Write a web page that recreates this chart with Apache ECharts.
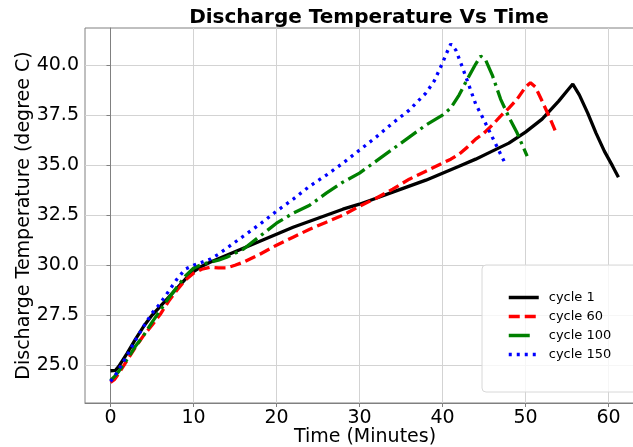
<!DOCTYPE html>
<html>
<head>
<meta charset="utf-8">
<script src="https://cdn.jsdelivr.net/npm/echarts@6.0.0/dist/echarts.min.js"></script>
<style>
  html, body { margin: 0; padding: 0; background: #fff; }
  #chart { width: 633px; height: 447px; }
</style>
</head>
<body>
<div id="chart"></div>
<script>
// tick labels
const xTicks = [0, 10, 20, 30, 40, 50, 60]
const yTicks = [25, 27.5, 30, 32.5, 35, 37.5, 40]

// cycle 1
const time1 = [0, 0.6, 1, 2, 3, 4, 5, 6, 7, 8, 9, 10, 11, 12, 14, 16, 18, 20, 22, 24, 26, 28, 30, 32, 34, 36, 38, 40, 42, 44, 46, 48, 50, 52, 53, 54, 55, 55.7, 56.5, 57.5, 58.5, 59.5, 60.5, 61.2]
const temp1 = [24.73, 24.75, 24.95, 25.6, 26.3, 26.95, 27.5, 27.95, 28.4, 28.85, 29.3, 29.68, 29.95, 30.15, 30.5, 30.85, 31.2, 31.55, 31.9, 32.2, 32.5, 32.8, 33.05, 33.35, 33.65, 33.95, 34.25, 34.6, 34.95, 35.3, 35.7, 36.1, 36.65, 37.3, 37.75, 38.2, 38.7, 39.05, 38.5, 37.6, 36.6, 35.7, 34.95, 34.4]

// cycle 60
const time60 = [0, 0.5, 1, 2, 3, 4, 5, 6, 7, 8, 9, 10, 11, 12, 13, 14, 15, 16, 17, 18, 20, 22, 24, 26, 28, 30, 32, 34, 36, 38, 40, 41, 42, 43, 44, 45, 46, 47, 48, 49, 50, 50.6, 51.2, 52, 53, 53.6]
const temp60 = [24.15, 24.3, 24.6, 25.25, 25.9, 26.5, 27.0, 27.55, 28.2, 28.75, 29.25, 29.6, 29.8, 29.9, 29.87, 29.87, 30.0, 30.15, 30.35, 30.55, 31.0, 31.4, 31.8, 32.15, 32.5, 32.95, 33.35, 33.8, 34.3, 34.7, 35.1, 35.3, 35.55, 35.9, 36.3, 36.6, 37.0, 37.45, 37.85, 38.3, 38.9, 39.12, 38.9, 38.2, 37.3, 36.7]

// cycle 100
const time100 = [0, 0.5, 1, 2, 3, 4, 5, 6, 7, 8, 9, 10, 11, 12, 13, 14, 16, 18, 20, 22, 24, 26, 28, 30, 32, 34, 36, 38, 40, 41, 42, 43, 44, 44.6, 45.2, 46, 47, 48, 49, 50.2]
const temp100 = [24.25, 24.45, 24.7, 25.3, 25.95, 26.5, 27.15, 27.75, 28.35, 28.9, 29.45, 29.85, 30.05, 30.15, 30.25, 30.4, 30.8, 31.45, 32.1, 32.6, 33.0, 33.6, 34.15, 34.6, 35.2, 35.8, 36.4, 37.0, 37.5, 37.85, 38.5, 39.3, 40.05, 40.45, 40.25, 39.5, 38.3, 37.4, 36.6, 35.45]

// cycle 150
const time150 = [0, 0.5, 1, 2, 3, 4, 5, 6, 7, 8, 9, 10, 11, 12, 13, 14, 16, 18, 20, 22, 24, 26, 28, 30, 32, 34, 36, 38, 39, 40, 40.5, 41, 41.6, 42.3, 43, 44, 45, 46, 47, 47.6]
const temp150 = [24.2, 24.45, 24.8, 25.5, 26.25, 26.95, 27.6, 28.1, 28.7, 29.3, 29.8, 30.0, 30.15, 30.3, 30.55, 30.85, 31.45, 32.05, 32.7, 33.3, 33.95, 34.5, 35.1, 35.75, 36.4, 37.1, 37.75, 38.6, 39.2, 40.1, 40.6, 41.05, 40.75, 40.0, 39.2, 38.05, 37.25, 36.4, 35.55, 35.05]

const pairs = (xs, ys) => xs.map((x, i) => [x, ys[i]])

const font = 'DejaVu Sans'
const chart = echarts.init(document.getElementById('chart'))

function line (name, xs, ys, color, dash) {
  return {
    name: name,
    type: 'line',
    data: pairs(xs, ys),
    showSymbol: false,
    symbol: 'none',
    smooth: false,
    lineStyle: { color: color, width: 3.3, type: dash, cap: 'butt' },
    itemStyle: { color: color }
  }
}

chart.setOption({
  animation: false,
  textStyle: { fontFamily: font },
  title: {
    text: 'Discharge Temperature Vs Time',
    left: 364,
    textAlign: 'center',
    top: 3,
    textStyle: { fontFamily: font, fontSize: 20, fontWeight: 'bold', color: '#000' }
  },
  grid: {
    left: 85,
    right: -12,
    top: 28,
    bottom: 44,
    outerBoundsMode: 'none',
    containLabel: false,
    show: true,
    borderColor: '#808080',
    borderWidth: 1
  },
  legend: {
    orient: 'vertical',
    left: 482,
    top: 265,
    padding: [26, 130, 31, 25],
    itemWidth: 30,
    itemHeight: 14,
    itemGap: 6,
    backgroundColor: 'rgba(255,255,255,0.8)',
    borderColor: '#d8d8d8',
    borderWidth: 1,
    borderRadius: 4,
    lineStyle: { width: 3.5 },
    itemStyle: { color: 'rgba(0,0,0,0)', borderWidth: 0, opacity: 0 },
    textStyle: { fontFamily: font, fontSize: 13, color: '#000', padding: [0, 0, 0, 5] },
    data: [
      { name: 'cycle 1' },
      { name: 'cycle 60' },
      { name: 'cycle 100', lineStyle: { type: [21, 9] } },
      { name: 'cycle 150' }
    ]
  },
  xAxis: {
    type: 'value',
    min: -3.07,
    max: 64.4,
    name: 'Time (Minutes)',
    nameLocation: 'middle',
    nameGap: 25,
    nameMoveOverlap: false,
    nameTextStyle: { fontFamily: font, fontSize: 19, color: '#000' },
    axisLine: { lineStyle: { color: '#808080', width: 1 } },
    axisTick: { show: true, length: 4, customValues: xTicks, lineStyle: { color: '#808080' } },
    axisLabel: { customValues: xTicks, fontSize: 19, color: '#000', margin: 6, fontFamily: font },
    splitLine: { show: true, lineStyle: { color: '#d3d3d3', width: 1 } }
  },
  yAxis: {
    type: 'value',
    min: 23.12,
    max: 41.85,
    name: 'Discharge Temperature (degree C)',
    nameLocation: 'middle',
    nameGap: 51,
    nameMoveOverlap: false,
    nameTextStyle: { fontFamily: font, fontSize: 19, color: '#000' },
    axisLine: { show: true, lineStyle: { color: '#808080', width: 1 } },
    axisTick: { show: true, length: 4, customValues: yTicks, lineStyle: { color: '#808080' } },
    axisLabel: {
      customValues: yTicks,
      fontSize: 19,
      color: '#000',
      margin: 6,
      fontFamily: font,
      formatter: v => v.toFixed(1)
    },
    splitLine: { show: true, lineStyle: { color: '#d3d3d3', width: 1 } }
  },
  series: [
    line('cycle 1', time1, temp1, '#000000', 'solid'),
    line('cycle 60', time60, temp60, '#ff0000', [11, 5]),
    line('cycle 100', time100, temp100, '#008000', [19, 5, 3, 5]),
    line('cycle 150', time150, temp150, '#0000ff', [3, 5])
  ]
})
</script>
</body>
</html>
